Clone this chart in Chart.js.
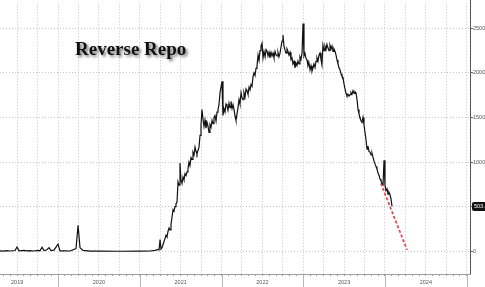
<!DOCTYPE html>
<html><head><meta charset="utf-8">
<script src="https://cdn.jsdelivr.net/npm/chart.js@4"></script>
<style>html,body{margin:0;padding:0;background:#fff;overflow:hidden}#wrap{width:485px;height:287px}</style>
</head><body><div id="wrap"><canvas id="c" width="485" height="287"></canvas></div>
<script>
// ---- data (decimal years, $bn) ----
const dates = [2019.290,2019.330,2019.370,2019.410,2019.474,2019.498,2019.523,2019.580,2019.620,2019.657,2019.700,2019.755,2019.780,2019.804,2019.829,2019.860,2019.890,2019.914,2019.950,2020.000,2020.024,2020.080,2020.147,2020.220,2020.245,2020.269,2020.306,2020.391,2020.514,2020.758,2021.003,2021.125,2021.187,
2021.223,2021.236,2021.248,2021.260,2021.272,2021.290,2021.309,2021.321,2021.333,2021.345,2021.358,2021.370,2021.382,2021.394,2021.407,2021.419,2021.431,2021.443,2021.456,2021.468,2021.480,2021.492,2021.504,2021.517,2021.529,2021.541,2021.553,2021.566,2021.578,2021.590,2021.602,2021.614,2021.627,2021.639,2021.651,2021.664,2021.676,2021.688,2021.700,2021.712,2021.725,2021.737,2021.749,2021.761,2021.774,2021.786,2021.798,2021.810,2021.823,2021.835,2021.847,2021.859,2021.872,2021.884,2021.896,2021.908,2021.920,2021.933,2021.945,2021.957,2021.969,2021.982,2022.006,2022.018,2022.030,2022.043,2022.055,2022.067,2022.079,2022.092,2022.104,2022.116,2022.129,2022.141,2022.153,2022.165,2022.177,2022.190,2022.202,2022.214,2022.226,2022.239,2022.251,2022.263,2022.275,2022.288,2022.300,2022.312,2022.324,2022.337,2022.349,2022.361,2022.373,2022.386,2022.398,2022.410,2022.422,2022.434,2022.447,2022.459,2022.471,2022.483,2022.496,2022.508,2022.520,2022.533,2022.545,2022.557,2022.569,2022.581,2022.593,2022.606,2022.618,2022.630,2022.642,2022.655,2022.667,2022.679,2022.691,2022.703,2022.716,2022.728,2022.740,2022.752,2022.764,2022.777,2022.789,2022.801,2022.813,2022.825,2022.838,2022.850,2022.862,2022.874,2022.887,2022.899,2022.911,2022.923,2022.936,2022.948,2022.960,2022.972,2022.985,2022.997,2023.009,2023.021,2023.034,2023.046,2023.058,2023.070,2023.083,2023.095,2023.107,2023.119,2023.131,2023.144,2023.156,2023.168,2023.180,2023.193,2023.205,2023.217,2023.229,2023.241,2023.254,2023.266,2023.278,2023.290,2023.303,2023.315,2023.327,2023.340,2023.352,2023.364,2023.376,2023.388,2023.401,2023.413,2023.425,2023.437,2023.450,2023.462,2023.474,2023.486,2023.498,2023.511,2023.523,2023.535,2023.547,2023.560,2023.572,2023.584,2023.596,2023.609,2023.621,2023.633,2023.645,2023.658,2023.670,2023.682,2023.694,2023.707,2023.719,2023.731,2023.743,2023.755,2023.768,2023.780,2023.792,2023.804,2023.817,2023.829,2023.841,2023.853,2023.866,2023.878,2023.890,2023.902,2023.914,2023.927,2023.939,2023.951,2023.963,2023.976,2023.988,2024.000,2024.012,2024.025,2024.037,2024.049,2024.061,2024.073,2024.086];
const values = [5,2,6,3,8,48,5,10,4,8,3,10,6,45,8,14,40,8,12,80,5,4,3,30,290,40,10,2,1,0,1,3,10,
20,15,130,25,40,90,145,180,160,222,260,240,300,380,467,450,500,530,555,778,740,990,800,760,833,800,870,850,889,930,1000,960,1050,1030,1111,1080,1167,1120,1089,1130,1167,1300,1411,1589,1478,1400,1470,1380,1444,1400,1333,1420,1390,1467,1430,1500,1522,1460,1560,1589,1640,1778,1905,1522,1600,1560,1650,1633,1580,1660,1611,1680,1600,1644,1590,1520,1467,1540,1611,1700,1650,1778,1720,1700,1780,1730,1820,1800,1760,1840,1811,1870,1850,1960,2000,1970,2050,2078,2200,2140,2250,2300,2333,2167,2240,2180,2260,2244,2190,2230,2167,2230,2190,2222,2170,2240,2200,2189,2230,2180,2222,2290,2355,2425,2300,2255,2220,2270,2244,2200,2230,2150,2167,2100,2130,2055,2110,2080,2133,2100,2180,2150,2222,2554,2189,2220,2160,2144,2080,2110,2033,2080,2020,2055,2100,2060,2130,2167,2130,2200,2222,2150,2089,2311,2250,2300,2260,2320,2278,2250,2310,2270,2300,2240,2270,2244,2200,2144,2100,2060,2033,1990,1960,1950,1880,1820,1770,1744,1760,1740,1756,1780,1760,1800,1770,1790,1778,1700,1589,1540,1500,1460,1444,1500,1420,1333,1250,1144,1180,1120,1111,1080,1100,1056,1010,980,950,922,880,850,811,790,760,744,1019,744,680,700,640,660,633,590,503];
const projDates = [2023.95, 2024.27];
const projValues = [760, 15];
const yTicks = [0, 500, 1000, 1500, 2000, 2500];
const yearLabels = [2019, 2020, 2021, 2022, 2023, 2024];
const titleText = "Reverse Repo";
const lastValueText = "503.4";

const xMin = 2019.29, xMax = 2025.04, yMin = -255, yMax = 2780;

const series = dates.map((d, i) => ({x: d, y: values[i]}));
const proj = projDates.map((d, i) => ({x: d, y: projValues[i]}));

const monthTicks = [];
for (let y = 2019; y <= 2025; y++) for (let m = 0; m < 12; m++) {
  const v = y + m / 12;
  if (v > xMin && v <= xMax) monthTicks.push({value: v});
}
const isQuarter = v => { const f = v * 4; return Math.abs(f - Math.round(f)) < 1e-6; };
const smallFont = '"Liberation Sans", Arial, sans-serif';

const overlay = {
  id: 'overlay',
  afterDraw(chart) {
    const ctx = chart.ctx, xs = chart.scales.x, ys = chart.scales.y, ca = chart.chartArea;
    ctx.save();
    ctx.strokeStyle = '#b8b8b8'; ctx.lineWidth = 1;
    for (let yr = 2020; yr <= 2025; yr++) {
      const px = Math.round(xs.getPixelForValue(yr)) + 0.5;
      ctx.beginPath(); ctx.moveTo(px, ca.bottom + 1); ctx.lineTo(px, 287); ctx.stroke();
    }
    ctx.strokeStyle = '#555';
    const rx = Math.round(ca.right) + 0.5;
    ctx.beginPath(); ctx.moveTo(rx, 0); ctx.lineTo(rx, ca.bottom); ctx.stroke();
    ctx.restore();
    // title
    ctx.save();
    ctx.font = 'bold 19px "Liberation Serif", "DejaVu Serif", serif';
    ctx.textBaseline = 'alphabetic';
    ctx.shadowColor = 'rgba(0,0,0,0.55)'; ctx.shadowBlur = 3; ctx.shadowOffsetX = 2; ctx.shadowOffsetY = 2;
    ctx.fillStyle = '#111';
    ctx.fillText(titleText, 75, 55);
    ctx.restore();
    // last value label
    const last = values[values.length - 1];
    const py = ys.getPixelForValue(last);
    ctx.save();
    ctx.fillStyle = '#111';
    const bx = ca.right + 2, bw = 20, bh = 9;
    ctx.beginPath();
    if (ctx.roundRect) ctx.roundRect(bx, py - bh / 2, bw, bh, 2); else ctx.rect(bx, py - bh / 2, bw, bh);
    ctx.fill();
    ctx.fillStyle = '#fff';
    ctx.font = '5.5px ' + smallFont;
    ctx.textBaseline = 'middle';
    ctx.fillText(lastValueText, bx + 2, py + 0.5);
    ctx.restore();
  }
};

new Chart(document.getElementById('c'), {
  type: 'line',
  data: {
    datasets: [
      {data: series, borderColor: '#111', borderWidth: 1.2, pointRadius: 0, tension: 0, fill: false},
      {data: proj, borderColor: '#e34a55', borderWidth: 1.8, borderDash: [3, 2], pointRadius: 0, fill: false}
    ]
  },
  options: {
    responsive: false, animation: false, devicePixelRatio: 1,
    layout: {padding: 0},
    plugins: {legend: {display: false}, tooltip: {enabled: false}, title: {display: false}},
    scales: {
      x: {
        type: 'linear', min: xMin, max: xMax,
        afterBuildTicks: s => { s.ticks = monthTicks.map(t => ({value: t.value})); },
        afterFit: s => { s.height = 13; },
        grid: {
          color: c => (c.tick && isQuarter(c.tick.value)) ? '#c4c4c4' : 'rgba(0,0,0,0)',
          tickColor: '#9a9a9a', tickLength: 2, lineWidth: 1
        },
        border: {display: true, color: '#a0a0a0', dash: [1, 2]},
        ticks: {
          autoSkip: false, maxRotation: 0, padding: 3,
          font: {size: 5.5, family: smallFont}, color: '#555',
          callback: (v) => {
            const f = v - Math.floor(v);
            if (Math.abs(f - 0.5) < 1e-6 && yearLabels.includes(Math.floor(v))) return String(Math.floor(v));
            return '';
          }
        }
      },
      y: {
        type: 'linear', position: 'right', min: yMin, max: yMax,
        afterBuildTicks: s => { s.ticks = yTicks.map(v => ({value: v})); },
        afterFit: s => { s.width = 15; },
        grid: {color: '#c4c4c4', tickColor: '#666', tickLength: 3, lineWidth: 1},
        border: {display: false, dash: [1, 2]},
        ticks: {padding: 0, font: {size: 5.5, family: smallFont}, color: '#555',
          callback: v => String(v)}
      }
    }
  },
  plugins: [overlay]
});
</script>
</body></html>
